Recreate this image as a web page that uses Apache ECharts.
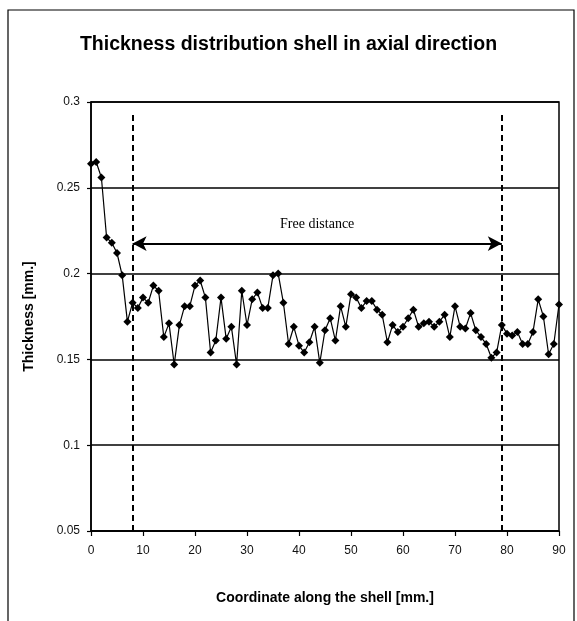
<!DOCTYPE html>
<html>
<head>
<meta charset="utf-8">
<script src="https://cdn.jsdelivr.net/npm/echarts@6/dist/echarts.min.js"></script>
<style>
html,body{margin:0;padding:0;background:#fff;}
#chart{width:577px;height:621px;}
</style>
</head>
<body>
<div id="chart"></div>
<script>
const xCoord = [0,1,2,3,4,5,6,7,8,9,10,11,12,13,14,15,16,17,18,19,20,21,22,23,24,25,26,27,28,29,30,31,32,33,34,35,36,37,38,39,40,41,42,43,44,45,46,47,48,49,50,51,52,53,54,55,56,57,58,59,60,61,62,63,64,65,66,67,68,69,70,71,72,73,74,75,76,77,78,79,80,81,82,83,84,85,86,87,88,89,90];
const thickness = [0.264,0.265,0.256,0.221,0.218,0.212,0.199,0.172,0.183,0.180,0.186,0.183,0.193,0.190,0.163,0.171,0.147,0.170,0.181,0.181,0.193,0.196,0.186,0.154,0.161,0.186,0.162,0.169,0.147,0.190,0.170,0.185,0.189,0.180,0.180,0.199,0.200,0.183,0.159,0.169,0.158,0.154,0.160,0.169,0.148,0.167,0.174,0.161,0.181,0.169,0.188,0.186,0.180,0.184,0.184,0.179,0.176,0.160,0.170,0.166,0.169,0.174,0.179,0.169,0.171,0.172,0.169,0.172,0.176,0.163,0.181,0.169,0.168,0.177,0.167,0.163,0.159,0.151,0.154,0.170,0.165,0.164,0.166,0.159,0.159,0.166,0.185,0.175,0.153,0.159,0.182];
const freeStart = 8;
const freeEnd = 79;
const arrowLevel = 0.2175;
const dashTop = 0.294;
const titleText = 'Thickness distribution shell in axial direction';
const xName = 'Coordinate along the shell [mm.]';
const yName = 'Thickness [mm.]';
const freeLabel = 'Free distance';

const data = xCoord.map((x, i) => [x, thickness[i]]);
const chart = echarts.init(document.getElementById('chart'), null, {renderer: 'canvas'});
chart.setOption({
  animation: false,
  backgroundColor: '#fff',
  graphic: [{
    type: 'rect', silent: true,
    shape: {x: 8, y: 10, width: 566, height: 620},
    style: {fill: 'none', stroke: '#000', lineWidth: 1.2}
  }],
  title: {
    text: titleText,
    left: 'center',
    top: 30,
    textStyle: {fontFamily: 'Liberation Sans', fontWeight: 'bold', fontSize: 19.5, color: '#000'}
  },
  grid: {left: 91, right: 18, top: 102, bottom: 90, show: true, borderColor: '#000', borderWidth: 1.5, backgroundColor: 'transparent'},
  xAxis: {
    type: 'value', min: 0, max: 90, interval: 10,
    name: xName, nameLocation: 'middle', nameGap: 60,
    nameTextStyle: {fontFamily: 'Liberation Sans', fontWeight: 'bold', fontSize: 14, color: '#000'},
    axisLine: {show: true, lineStyle: {color: '#000', width: 1.5}},
    axisTick: {show: true, inside: false, length: 5, lineStyle: {color: '#000', width: 1.2}},
    axisLabel: {margin: 14, fontFamily: 'Liberation Sans', fontSize: 12, color: '#111'},
    splitLine: {show: false}
  },
  yAxis: {
    type: 'value', min: 0.05, max: 0.3, interval: 0.05,
    name: yName, nameLocation: 'middle', nameGap: 55,
    nameTextStyle: {fontFamily: 'Liberation Sans', fontWeight: 'bold', fontSize: 14, color: '#000'},
    axisLine: {show: true, lineStyle: {color: '#000', width: 1.5}},
    axisTick: {show: true, inside: false, length: 4, lineStyle: {color: '#000', width: 1.2}},
    axisLabel: {margin: 11, fontFamily: 'Liberation Sans', fontSize: 12, color: '#111',
      formatter: v => String(+v.toFixed(2))},
    splitLine: {show: true, lineStyle: {color: '#000', width: 1.5}}
  },
  series: [{
    type: 'line',
    data: data,
    symbol: 'diamond',
    symbolSize: 8,
    lineStyle: {color: '#000', width: 1.2},
    itemStyle: {color: '#000'},
    markLine: {
      silent: true,
      animation: false,
      symbol: ['none', 'none'],
      data: [
        [{coord: [freeStart, 0.05], lineStyle: {type: [6, 4], width: 2, color: '#000'}, label: {show: false}},
         {coord: [freeStart, dashTop]}],
        [{coord: [freeEnd, 0.05], lineStyle: {type: [6, 4], width: 2, color: '#000'}, label: {show: false}},
         {coord: [freeEnd, dashTop]}],
        [{coord: [freeStart, arrowLevel], symbol: 'arrow', symbolSize: [11, 14],
          lineStyle: {type: 'solid', width: 2.2, color: '#000'},
          label: {show: true, position: 'middle', formatter: freeLabel, distance: 12,
            fontFamily: 'Liberation Serif', fontSize: 14, color: '#000'}},
         {coord: [freeEnd, arrowLevel], symbol: 'arrow', symbolSize: [11, 14]}]
      ]
    }
  }]
});
</script>
</body>
</html>
